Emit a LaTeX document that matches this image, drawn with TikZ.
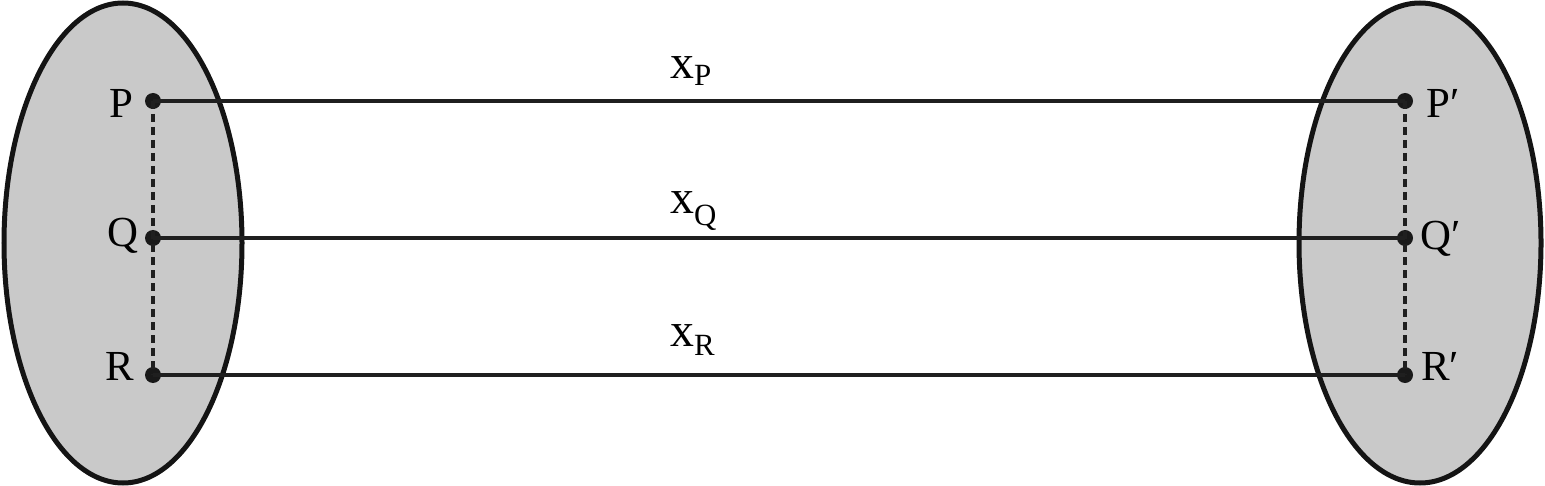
\documentclass[tikz,border=0pt]{standalone}
\usepackage{fontspec}
\setmainfont{Liberation Serif}
\begin{document}
\begin{tikzpicture}[x=1bp,y=-1bp,
  blob/.style={draw=black!92,line width=5bp,fill=gray!42},
  dotpt/.style={circle,fill=black!90,inner sep=0pt,minimum size=16bp},
  lbl/.style={inner sep=0pt,anchor=base,font=\fontsize{43}{48}\selectfont},
  xlbl/.style={inner sep=0pt,anchor=base west,font=\fontsize{48}{54}\selectfont},
  link/.style={line width=3.6bp,black!88},
  dashlink/.style={line width=3.6bp,black!88,dash pattern=on 8bp off 5bp}]
\useasboundingbox (0,0) rectangle (1545,486);
\draw[blob] (123,243) ellipse [x radius=119, y radius=240];
\draw[blob] (1420,243) ellipse [x radius=121, y radius=240];
\node[dotpt] (P) at (153,101) {};
\node[dotpt] (Q) at (153,238) {};
\node[dotpt] (R) at (153,375) {};
\node[dotpt] (P2) at (1405,101) {};
\node[dotpt] (Q2) at (1405,238) {};
\node[dotpt] (R2) at (1405,375) {};
\draw[dashlink] (P.center) -- (Q.center) -- (R.center);
\draw[dashlink] (P2.center) -- (Q2.center) -- (R2.center);
\draw[link] (P.center) -- (P2.center);
\draw[link] (Q.center) -- (Q2.center);
\draw[link] (R.center) -- (R2.center);
\node[lbl] (lP) at (121,118) {P};
\node[lbl] (lQ) at (123,247) {Q};
\node[lbl] (lR) at (120,380) {R};
\node[lbl,anchor=base west] (lP2) at (1426,118) {P′};
\node[lbl,anchor=base west] (lQ2) at (1420,250) {Q′};
\node[lbl,anchor=base west] (lR2) at (1421,380) {R′};
\node[xlbl] (xP) at (670,79) {x\raisebox{-7bp}{\fontsize{31}{34}\selectfont P}};
\node[xlbl] (xQ) at (670,214) {x\raisebox{-12bp}{\fontsize{31}{34}\selectfont Q}};
\node[xlbl] (xR) at (670,346) {x\raisebox{-9bp}{\fontsize{31}{34}\selectfont R}};
\end{tikzpicture}
\end{document}
